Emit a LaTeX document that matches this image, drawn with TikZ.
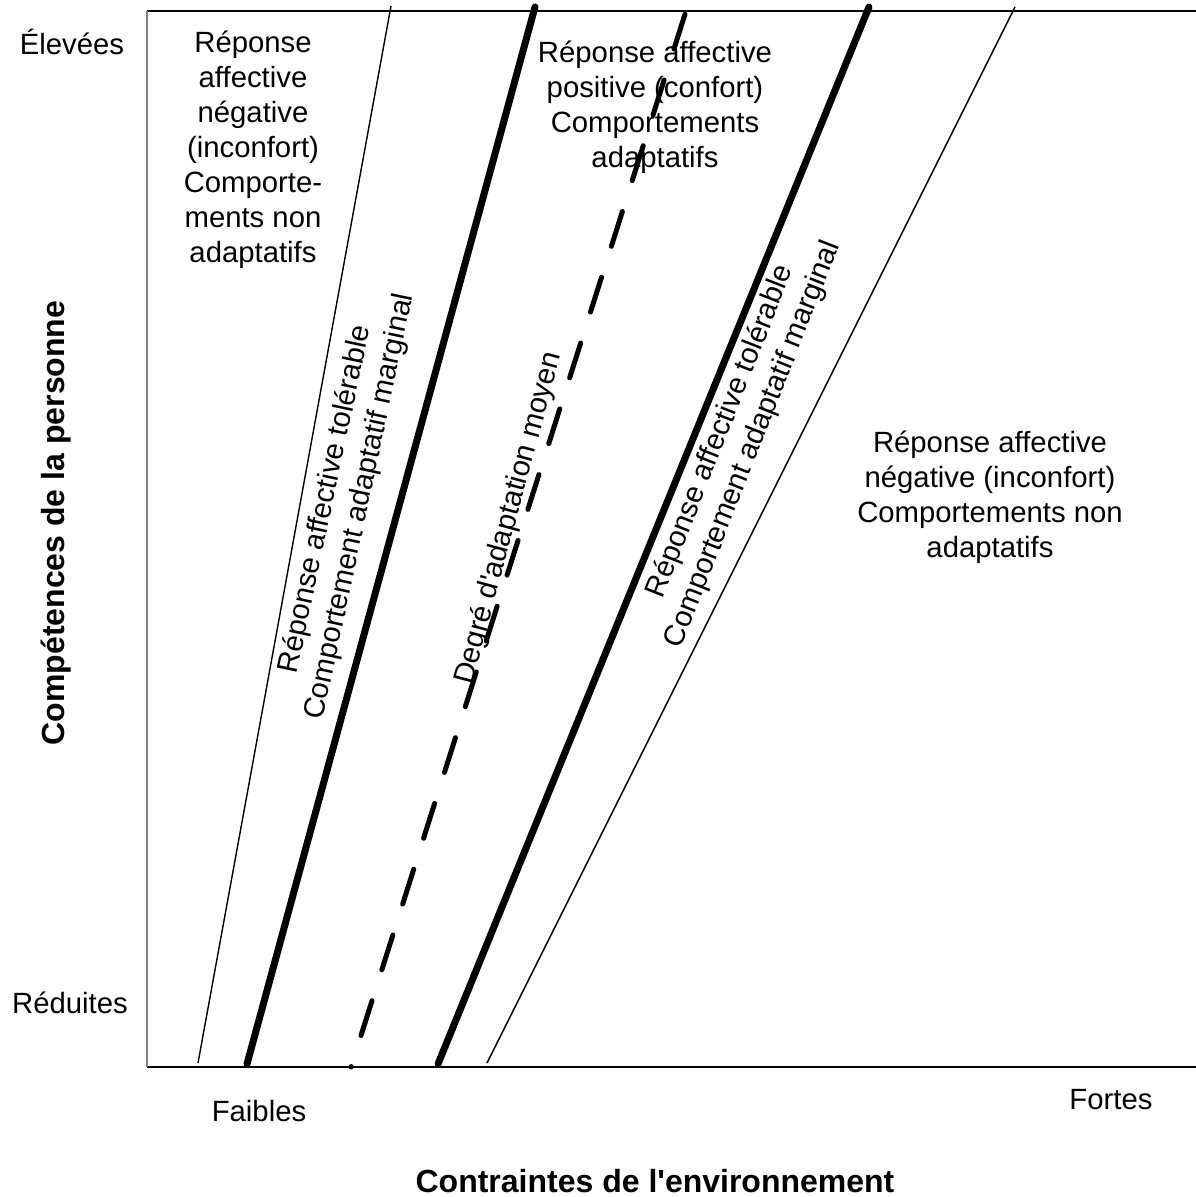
\documentclass[tikz,border=0pt]{standalone}
\usepackage{fontspec}
\setmainfont{Liberation Sans}
\begin{document}
\begin{tikzpicture}[x=1pt,y=-1pt,
  lbl/.style={inner sep=0pt, font=\fontsize{29.3}{35}\selectfont, align=center},
  axlbl/.style={inner sep=0pt, font=\fontsize{32}{38}\selectfont\bfseries},
  thinline/.style={line width=1.4pt},
  thickline/.style={line width=7pt, line cap=round},
  meanline/.style={line width=5pt, line cap=round, dash pattern=on 36.5pt off 32.5pt, dash phase=36pt},
]
\useasboundingbox[fill=white] (0,0) rectangle (1196,1197);

% frame of the chart
\coordinate (origin) at (147,1067);
\coordinate (ytop) at (147,11);
\coordinate (xend) at (1196,1067);
\coordinate (topend) at (1196,11);
\draw[line width=1.4pt] (origin) -- (xend);
\draw[line width=1.4pt] (ytop) -- (topend);
\draw[gray, line width=1.8pt] (ytop) -- (origin);

% boundary lines of the adaptation zone
\coordinate (l1b) at (198,1063);  \coordinate (l1t) at (391,6);
\coordinate (l2b) at (247,1064);  \coordinate (l2t) at (535,7);
\coordinate (l3b) at (351,1067);  \coordinate (l3t) at (686,11);
\coordinate (l4b) at (438,1064);  \coordinate (l4t) at (869,7);
\coordinate (l5b) at (487,1063);  \coordinate (l5t) at (1015,7);
\draw[thinline] (l1b) -- (l1t);
\draw[thickline] (l2b) -- (l2t);
\draw[meanline] (l3b) -- (l3t);
\draw[thickline] (l4b) -- (l4t);
\draw[thinline] (l5b) -- (l5t);

% zone labels
\node[lbl] (negA) at (253,150) {Réponse\\affective\\négative\\(inconfort)\\Comporte-\\ments non\\adaptatifs};
\node[lbl] (pos) at (655,107) {Réponse affective\\positive (confort)\\Comportements\\adaptatifs};
\node[lbl] (negB) at (990,497) {Réponse affective\\négative (inconfort)\\Comportements non\\adaptatifs};
\node[lbl, rotate=78] (tolA) at (343,503) {Réponse affective tolérable\\Comportement adaptatif marginal};
\node[lbl, rotate=75] (moy) at (509,518) {Degré d\textquotesingle adaptation moyen};
\node[lbl, rotate=68.5] (tolB) at (737,438) {Réponse affective tolérable\\Comportement adaptatif marginal};

% axis labels
\node[lbl, anchor=base] (hi) at (72,54) {Élevées};
\node[lbl, anchor=base] (lo) at (70,1013) {Réduites};
\node[lbl, anchor=base] (weak) at (259,1121) {Faibles};
\node[lbl, anchor=base] (strong) at (1111,1109) {Fortes};
\node[axlbl, anchor=base] (xt) at (655,1192) {Contraintes de l\textquotesingle environnement};
\node[axlbl, rotate=90] (yt) at (56,523) {Compétences de la personne};
\end{tikzpicture}
\end{document}
